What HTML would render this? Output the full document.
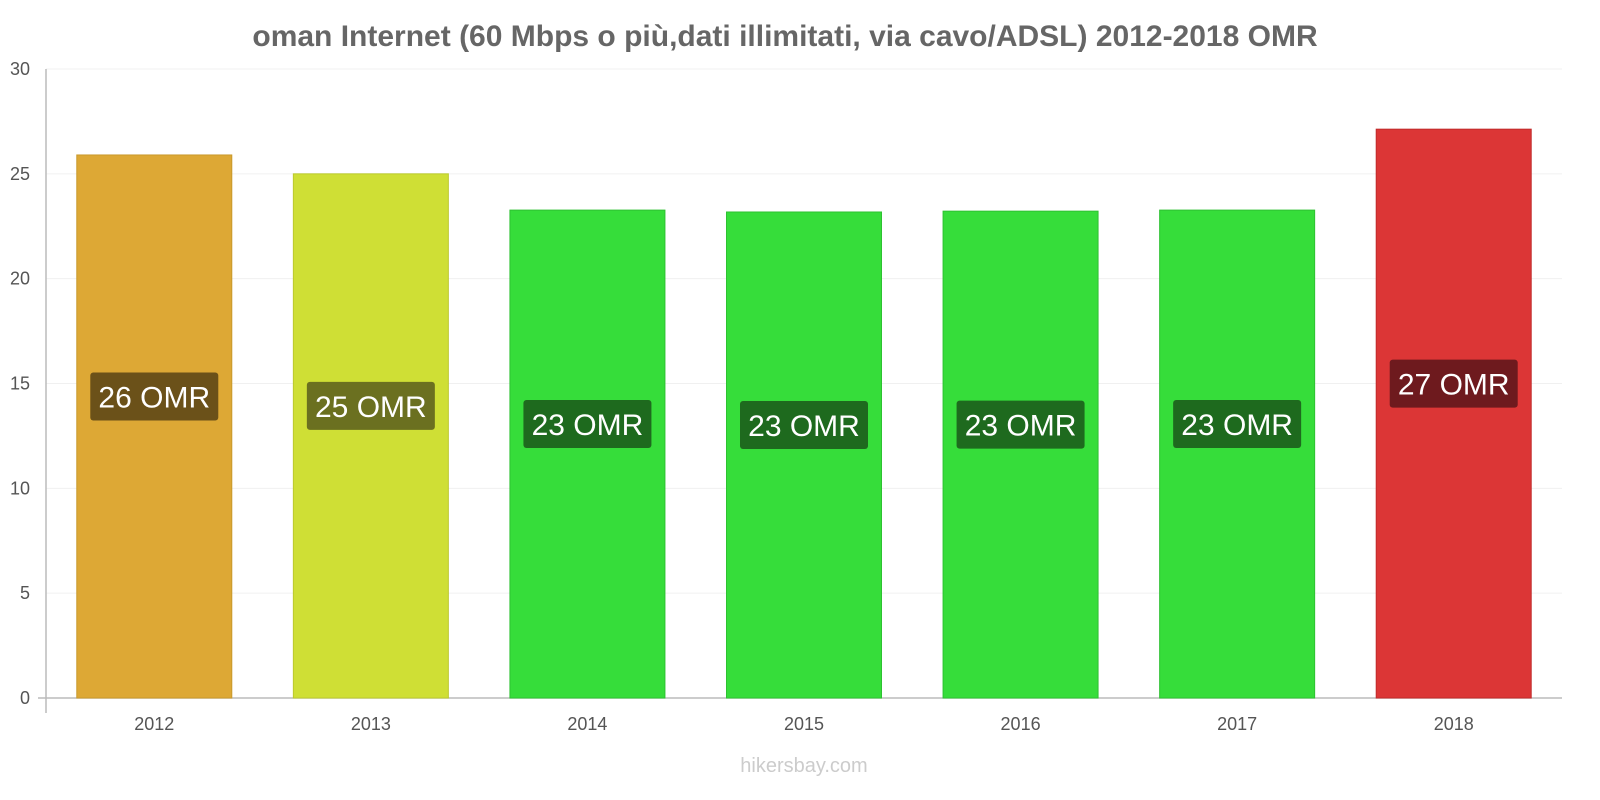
<!DOCTYPE html>
<html><head><meta charset="utf-8"><style>
html,body{margin:0;padding:0;width:1600px;height:800px;overflow:hidden;background:#fff;font-family:"Liberation Sans",sans-serif;}
svg{display:block;}
svg text{font-family:"Liberation Sans",sans-serif;}
</style></head><body>
<svg id="chart" width="1600" height="800" viewBox="0 0 1600 800" xmlns="http://www.w3.org/2000/svg">
<text x="785" y="46" text-anchor="middle" font-size="30" font-weight="bold" fill="#666">oman Internet (60 Mbps o più,dati illimitati, via cavo/ADSL) 2012-2018 OMR</text>
<g id="grid"></g><g id="bars"></g><g id="labels"></g>
<text x="804" y="772" text-anchor="middle" font-size="20" fill="#ccc">hikersbay.com</text>
</svg>
<script>
const categories = ["2012","2013","2014","2015","2016","2017","2018"];
const values = [25.9, 25.0, 23.27, 23.18, 23.22, 23.27, 27.13];
const valueLabels = ["26 OMR","25 OMR","23 OMR","23 OMR","23 OMR","23 OMR","27 OMR"];
const yTicks = [0,5,10,15,20,25,30];
const fills = ["#dda835","#cfdf35","#36dd3a","#36dd3a","#36dd3a","#36dd3a","#dc3636"];
const strokes = ["#c9992c","#bcc92e","#2dc231","#2dc231","#2dc231","#2dc231","#c02a2a"];
const labelFills = ["#6b5119","#6b7020","#1e6a1e","#1e6a1e","#1e6a1e","#1e6a1e","#6e1a1e"];

const NS="http://www.w3.org/2000/svg";
const L=46,R=1562,T=69,B=698,yMax=30;
const y=v=>B-(v/yMax)*(B-T);
const bw=(R-L)/categories.length;
const xc=i=>L+bw*(i+0.5);
function mk(tag,attrs,parent){const e=document.createElementNS(NS,tag);for(const k in attrs)e.setAttribute(k,attrs[k]);parent.appendChild(e);return e;}
const grid=document.getElementById('grid'),bars=document.getElementById('bars'),labels=document.getElementById('labels');
yTicks.forEach(t=>{
  const gl=mk('line',{x1:L,x2:R,y1:y(t),y2:y(t),stroke:"#f0f0f0","stroke-width":1},grid);
  
  
  const tx=mk('text',{x:30,y:y(t)+6,"text-anchor":"end","font-size":18,fill:"#555"},grid);
  tx.textContent=t;
  
  
});
const ya=mk('line',{x1:L,x2:L,y1:T,y2:713,stroke:"#bbb","stroke-width":1.5},grid);


const xa=mk('line',{x1:38,x2:R,y1:B,y2:B,stroke:"#bbb","stroke-width":1.5},grid);


categories.forEach((c,i)=>{
  const w=155,x0=xc(i)-w/2,top=y(values[i]);
  const r=mk('rect',{x:x0,y:top,width:w,height:B-top,fill:fills[i],stroke:strokes[i],"stroke-width":1},bars);
  
  
  const tx=mk('text',{x:xc(i),y:730,"text-anchor":"middle","font-size":18,fill:"#555"},labels);
  tx.textContent=c;
  
  
  const cy=(top+B)/2-30;
  const bx=mk('rect',{x:xc(i)-64,y:cy-24,width:128,height:48,rx:3,fill:labelFills[i]},labels);
  
  
  const vt=mk('text',{x:xc(i),y:cy+11,"text-anchor":"middle","font-size":30,fill:"#fff"},labels);
  vt.textContent=valueLabels[i];
  
  
});
</script>
</body></html>
